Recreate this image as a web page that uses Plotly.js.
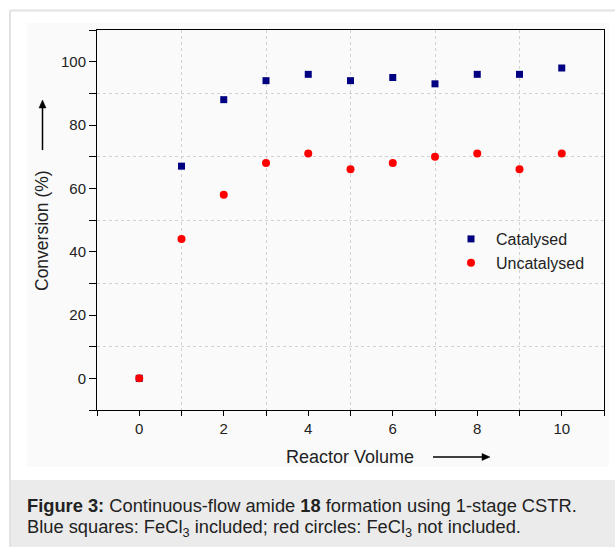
<!DOCTYPE html>
<html>
<head>
<meta charset="utf-8">
<script src="https://cdn.plot.ly/plotly-3.0.1.min.js"></script>
<style>
html,body{margin:0;padding:0;background:#fff;}
#chart{width:615px;height:547px;}
</style>
</head>
<body>
<div id="chart"></div>
<script>
// ---- data ----
const reactorVolume = [0, 1, 2, 3, 4, 5, 6, 7, 8, 9, 10];
const catalysed   = [0, 67, 88, 94, 96, 94, 95, 93, 96, 96, 98];
const uncatalysed = [0, 44, 58, 68, 71, 66, 68, 70, 71, 66, 71];
const seriesNames = ['Catalysed', 'Uncatalysed'];
const xTitle = 'Reactor Volume';
const yTitle = 'Conversion (%)';
const captionLine1 = '<b>Figure 3:</b> Continuous-flow amide <b>18</b> formation using 1-stage CSTR.';
const captionLine2 = 'Blue squares: FeCl<sub>3</sub> included; red circles: FeCl<sub>3</sub> not included.';

// ---- layout geometry ----
const W = 615, H = 547;
const M = {l: 97, r: 11, t: 30, b: 137};
const PW = W - M.l - M.r, PH = H - M.t - M.b;
const px = v => (v - M.l) / PW;        // pixel x -> paper x
const py = v => (H - M.b - v) / PH;    // pixel y -> paper y
const FONT = 'Liberation Sans, Arial, sans-serif';

function arrowShapes(x0, y0, x1, y1) {
  // line from (x0,y0) to tip (x1,y1), pixel coords, with filled head
  const dx = x1 - x0, dy = y1 - y0, len = Math.hypot(dx, dy);
  const ux = dx / len, uy = dy / len, hl = 8, hw = 3.5;
  const bx = x1 - ux * hl, by = y1 - uy * hl;
  const p1 = [bx - uy * hw, by + ux * hw], p2 = [bx + uy * hw, by - ux * hw];
  return [
    {type: 'line', xref: 'paper', yref: 'paper', x0: px(x0), y0: py(y0), x1: px(bx), y1: py(by),
     line: {color: '#000', width: 1.5}},
    {type: 'path', xref: 'paper', yref: 'paper',
     path: `M ${px(x1)} ${py(y1)} L ${px(p1[0])} ${py(p1[1])} L ${px(p2[0])} ${py(p2[1])} Z`,
     fillcolor: '#000', line: {color: '#000', width: 0.5}}
  ];
}

const traces = [
  {x: reactorVolume, y: catalysed, name: seriesNames[0], type: 'scatter', mode: 'markers',
   marker: {symbol: 'square', size: 7, color: '#000080'}},
  {x: reactorVolume, y: uncatalysed, name: seriesNames[1], type: 'scatter', mode: 'markers',
   marker: {symbol: 'circle', size: 8, color: '#ff0000'}}
];

const axisCommon = {
  showline: true, linecolor: '#000', linewidth: 1, mirror: true,
  ticks: 'outside', tickcolor: '#000', tickwidth: 1,
  showgrid: false, zeroline: false,
  tickfont: {family: FONT, size: 15, color: '#222'}
};

const layout = {
  width: W, height: H,
  margin: M,
  paper_bgcolor: '#ffffff',
  plot_bgcolor: 'rgba(0,0,0,0)',
  font: {family: FONT, color: '#222'},
  showlegend: true,
  legend: {x: px(446), y: py(222), xanchor: 'left', yanchor: 'top',
           bgcolor: 'rgba(0,0,0,0)', itemwidth: 40,
           font: {family: FONT, size: 16, color: '#222'}},
  xaxis: Object.assign({}, axisCommon, {
    range: [-1, 11], tick0: 0, dtick: 2, ticklen: 5,
    minor: {dtick: 1, tick0: 0, ticks: 'outside', ticklen: 5, tickcolor: '#000',
            showgrid: true, gridcolor: '#d2d2d2', griddash: 'dot', gridwidth: 1}
  }),
  yaxis: Object.assign({}, axisCommon, {
    range: [-10, 110], tick0: 0, dtick: 20, ticklen: 7,
    minor: {dtick: 10, tick0: 0, ticks: 'outside', ticklen: 7, tickcolor: '#000',
            showgrid: true, gridcolor: '#d2d2d2', griddash: 'dot', gridwidth: 1}
  }),
  shapes: [
    // faint image background
    {type: 'rect', xref: 'paper', yref: 'paper', layer: 'below',
     x0: px(27), x1: px(609), y0: py(23), y1: py(467),
     fillcolor: '#fafafa', line: {width: 0}},
    // caption box
    {type: 'rect', xref: 'paper', yref: 'paper', layer: 'below',
     x0: px(10), x1: px(616), y0: py(480), y1: py(548),
     fillcolor: '#ebebeb', line: {width: 0}},
    // outer border lines
    {type: 'line', xref: 'paper', yref: 'paper', x0: px(10), x1: px(616), y0: py(10.5), y1: py(10.5),
     line: {color: '#e2e2e2', width: 2}},
    {type: 'line', xref: 'paper', yref: 'paper', x0: px(10), x1: px(10), y0: py(10.5), y1: py(548),
     line: {color: '#e2e2e2', width: 2}}
  ].concat(arrowShapes(42.5, 150, 42.5, 100), arrowShapes(433, 457, 490, 457)),
  annotations: [
    {text: yTitle, xref: 'paper', yref: 'paper', x: px(42), y: py(231), textangle: -90,
     showarrow: false, xanchor: 'center', yanchor: 'middle',
     font: {family: FONT, size: 17.5, color: '#222'}},
    {text: xTitle, xref: 'paper', yref: 'paper', x: px(350), y: py(457),
     showarrow: false, xanchor: 'center', yanchor: 'middle',
     font: {family: FONT, size: 18, color: '#222'}},
    {text: captionLine1, xref: 'paper', yref: 'paper', x: px(25), y: py(506),
     showarrow: false, xanchor: 'left', yanchor: 'middle', align: 'left',
     font: {family: FONT, size: 18.3, color: '#222'}},
    {text: captionLine2, xref: 'paper', yref: 'paper', x: px(25), y: py(528),
     showarrow: false, xanchor: 'left', yanchor: 'middle', align: 'left',
     font: {family: FONT, size: 18.3, color: '#222'}}
  ]
};

Plotly.newPlot('chart', traces, layout, {displayModeBar: false, staticPlot: true});
</script>
</body>
</html>
